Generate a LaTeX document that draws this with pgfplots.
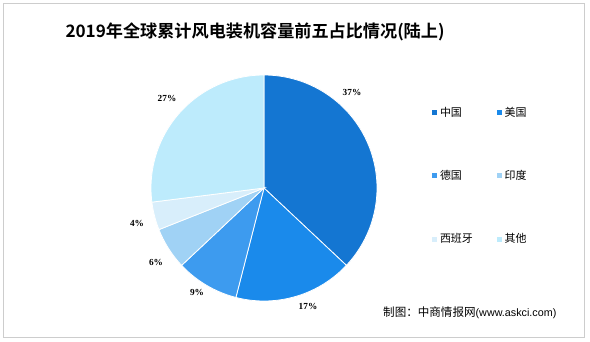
\documentclass[border=0pt]{standalone}
\usepackage{pgfplots}
\pgfplotsset{compat=1.18}
\usepackage{fontspec}
\setmainfont{Liberation Serif}
\newfontfamily\cjk{Noto Sans CJK SC}
\newfontfamily\cjkb{Noto Sans CJK SC Bold}
\newfontfamily\latin{Liberation Sans}
\definecolor{cCN}{RGB}{20,118,210}
\definecolor{cUS}{RGB}{26,138,235}
\definecolor{cDE}{RGB}{61,155,239}
\definecolor{cIN}{RGB}{160,210,245}
\definecolor{cES}{RGB}{216,238,251}
\definecolor{cOT}{RGB}{189,235,252}
\definecolor{frame}{RGB}{205,205,205}
\begin{document}
\begin{tikzpicture}
\begin{axis}[
  hide axis, scale only axis, width=590bp, height=341bp,
  xmin=0, xmax=590, ymin=0, ymax=341, clip=false,
  legend columns=2,
  legend cell align=left,
  legend image code/.code={\fill[#1] (0bp,-3bp) rectangle (6bp,3bp);},
  legend style={at={(axis cs:431,236)}, anchor=north west, draw=none, fill=none,
    font=\cjk\fontsize{11}{12.5}\selectfont, inner sep=0pt, row sep=48.5bp,
    /tikz/every even column/.append style={column sep=21bp}},
]
\fill[white] (axis cs:0,0) rectangle (axis cs:590,341);
\draw[frame, line width=1bp] (axis cs:3.5,4) rectangle (axis cs:584,337.5);
% slices: domain = cumulative percent (start:end), clockwise from top
\addplot[fill=cCN, draw=white, line width=0.8bp, domain=0:37, samples=90, variable=\t]
  ({264+113*sin(3.6*\t)},{153+113*cos(3.6*\t)}) -- (axis cs:264,153) -- cycle;
\addlegendentry{中国}
\addplot[fill=cUS, draw=white, line width=0.8bp, domain=37:54, samples=50, variable=\t]
  ({264+113*sin(3.6*\t)},{153+113*cos(3.6*\t)}) -- (axis cs:264,153) -- cycle;
\addlegendentry{美国}
\addplot[fill=cDE, draw=white, line width=0.8bp, domain=54:63, samples=30, variable=\t]
  ({264+113*sin(3.6*\t)},{153+113*cos(3.6*\t)}) -- (axis cs:264,153) -- cycle;
\addlegendentry{德国}
\addplot[fill=cIN, draw=white, line width=0.8bp, domain=63:69, samples=20, variable=\t]
  ({264+113*sin(3.6*\t)},{153+113*cos(3.6*\t)}) -- (axis cs:264,153) -- cycle;
\addlegendentry{印度}
\addplot[fill=cES, draw=white, line width=0.8bp, domain=69:73, samples=15, variable=\t]
  ({264+113*sin(3.6*\t)},{153+113*cos(3.6*\t)}) -- (axis cs:264,153) -- cycle;
\addlegendentry{西班牙}
\addplot[fill=cOT, draw=white, line width=0.8bp, domain=73:100, samples=70, variable=\t]
  ({264+113*sin(3.6*\t)},{153+113*cos(3.6*\t)}) -- (axis cs:264,153) -- cycle;
\addlegendentry{其他}
% data labels
\begin{scope}[every node/.style={font=\bfseries\fontsize{9.3}{10}\selectfont, inner sep=0pt}]
\node at (axis cs:352,249) {37\%};
\node at (axis cs:308,35) {17\%};
\node at (axis cs:197,49) {9\%};
\node at (axis cs:156,79) {6\%};
\node at (axis cs:137,118) {4\%};
\node at (axis cs:167,243) {27\%};
\end{scope}
% title
\node[font=\cjkb\fontsize{17.2}{19}\selectfont, inner sep=0pt] at (axis cs:255,309)
  {2019年全球累计风电装机容量前五占比情况(陆上)};
% source
\node[anchor=west, inner sep=0pt] at (axis cs:383,28)
  {{\cjk\fontsize{11.6}{13}\selectfont 制图：中商情报网}{\latin\fontsize{10.8}{12}\selectfont (www.askci.com)}};
\end{axis}
\end{tikzpicture}
\end{document}
